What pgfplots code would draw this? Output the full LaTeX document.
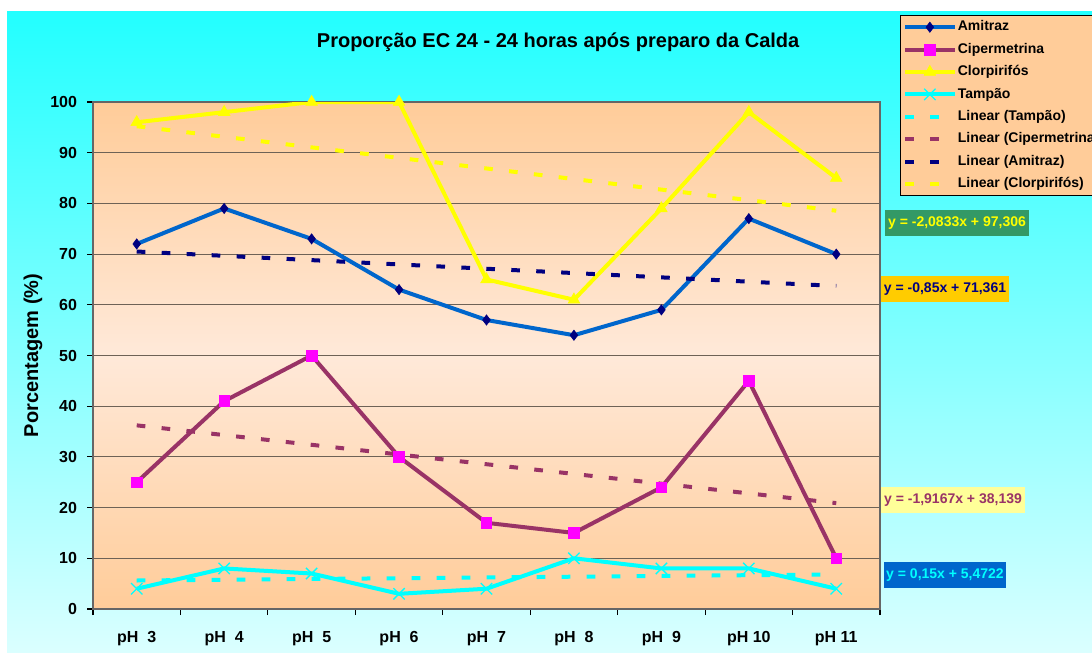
\documentclass[border=0pt]{standalone}
\usepackage{fontspec}
\setmainfont{Liberation Sans}
\usepackage{pgfplots}
\pgfplotsset{compat=1.18}
\definecolor{bgtop}{HTML}{22FFFF}
\definecolor{bgbot}{HTML}{DDFFFF}
\definecolor{peach}{HTML}{FFCC99}
\definecolor{peachlight}{HTML}{FFE9D9}
\definecolor{amiline}{HTML}{0066CC}
\definecolor{navy}{HTML}{000080}
\definecolor{plum}{HTML}{993366}
\definecolor{mag}{HTML}{FF00FF}
\definecolor{yel}{HTML}{FFFF00}
\definecolor{cyn}{HTML}{00FFFF}
\definecolor{gridc}{HTML}{6E6256}
\definecolor{eqgreen}{HTML}{339966}
\definecolor{eqorange}{HTML}{FFCC00}
\definecolor{eqyellow}{HTML}{FFFF99}
\definecolor{eqblue}{HTML}{0066CC}

\pgfplotstableread{
x ami cip clo tam
0 72 25 96 4
1 79 41 98 8
2 73 50 100 7
3 63 30 100 3
4 57 17 65 4
5 54 15 61 10
6 59 24 79 8
7 77 45 98 8
8 70 10 85 4
}\datatab

\pgfplotstableread{
x ami cip clo tam
0 70.511 36.222 95.223 5.622
1 69.661 34.306 93.139 5.772
2 68.811 32.389 91.056 5.922
3 67.961 30.472 88.973 6.072
4 67.111 28.556 86.890 6.222
5 66.261 26.639 84.806 6.372
6 65.411 24.722 82.723 6.522
7 64.561 22.805 80.640 6.672
8 63.711 20.889 78.556 6.822
}\trendtab

\begin{document}
\begin{tikzpicture}
\useasboundingbox (0pt,0pt) rectangle (819pt,-489.75pt);
\clip (0pt,0pt) rectangle (819pt,-489.75pt);
\begin{scope}[x=0.75pt,y=-0.75pt]
\fill[white] (0,0) rectangle (1092,653);
\shade[top color=bgtop,bottom color=bgbot] (7,11) rectangle (1095,660);
\end{scope}
\begin{axis}[
  at={(69.75pt,-456.75pt)}, anchor=south west,
  scale only axis, width=590.25pt, height=380.25pt,
  xmin=-0.5, xmax=8.5, ymin=0, ymax=100,
  xtick={-0.5,0.5,...,8.5},
  x tick label as interval,
  xticklabels={pH\ \ 3,pH\ \ 4,pH\ \ 5,pH\ \ 6,pH\ \ 7,pH\ \ 8,pH\ \ 9,pH 10,pH 11},
  ytick={0,10,...,100},
  xtick pos=bottom, ytick pos=left,
  tick align=outside, major tick length=4.5pt,
  ymajorgrids, xmajorgrids=false,
  grid style={gridc, line width=0.8pt},
  axis background/.style={top color=peach, bottom color=peach, middle color=peachlight},
  axis line style={draw=gray!80!black, line width=0.8pt},
  tick style={black, line width=0.8pt},
  ticklabel style={font=\bfseries\fontsize{12}{14}\selectfont},
  xticklabel style={yshift=-9pt},
  yticklabel style={xshift=-4pt},
  /pgf/number format/assume math mode=true,
  ylabel={Porcentagem (\%)},
  ylabel style={font=\bfseries\fontsize{15}{17}\selectfont, at={(rel axis cs:-0.0762,0.5)}, anchor=center},
  every axis title shift=0pt,
  title={Proporção EC 24 - 24 horas após preparo da Calda},
  title style={font=\bfseries\fontsize{15}{17}\selectfont, at={(rel axis cs:0.591,1.118)}, anchor=center},
  legend style={at={(1.0254,1.1716)}, anchor=north west, draw=black, line width=0.8pt,
    top color=peach, middle color=peachlight, bottom color=peach,
    font=\bfseries\fontsize{10.5}{12}\selectfont,
    inner xsep=2pt, inner ysep=2.5pt, row sep=4.3pt,
    nodes={inner sep=1pt, text height=8pt, text depth=2.5pt}},
  legend cell align=left,
  legend image code/.code={\draw[mark repeat=2,mark phase=2,#1] plot coordinates {(0pt,0pt) (18.5pt,0pt) (37pt,0pt)};},
  trend/.style={line width=3pt, dash pattern=on 6.5pt off 12.25pt, line cap=butt},
]
\addplot[amiline, line width=3pt, mark=diamond*, mark size=3.8pt, mark options={navy, fill=navy, solid, line width=0.5pt}] table[x=x,y=ami] {\datatab};
\addlegendentry{Amitraz}
\addplot[plum, line width=3pt, mark=square*, mark size=4pt, mark options={mag, fill=mag, solid, line width=0.5pt}] table[x=x,y=cip] {\datatab};
\addlegendentry{Cipermetrina}
\addplot[yel, line width=3pt, mark=triangle*, mark size=5pt, mark options={yel, fill=yel, solid, line width=0.5pt}] table[x=x,y=clo] {\datatab};
\addlegendentry{Clorpirifós}
\addplot[cyn, line width=3pt, mark=x, mark size=6pt, mark options={cyn, solid, line width=1pt}] table[x=x,y=tam] {\datatab};
\addlegendentry{Tampão}
\addplot[cyn, trend] table[x=x,y=tam] {\trendtab};
\addlegendentry{Linear (Tampão)}
\addplot[plum, trend] table[x=x,y=cip] {\trendtab};
\addlegendentry{Linear (Cipermetrina)}
\addplot[navy, trend] table[x=x,y=ami] {\trendtab};
\addlegendentry{Linear (Amitraz)}
\addplot[yel, trend] table[x=x,y=clo] {\trendtab};
\addlegendentry{Linear (Clorpirifós)}
\end{axis}
\begin{scope}[x=0.75pt,y=-0.75pt]
\tikzset{eq/.style={font=\bfseries\fontsize{10.5}{12}\selectfont, inner xsep=2pt, minimum height=19.5pt}}
\node[eq, fill=eqgreen, text=yel] at (957,223) {y = -2,0833x + 97,306};
\node[eq, fill=eqorange, text=navy] at (945,289) {y = -0,85x + 71,361};
\node[eq, fill=eqyellow, text=plum] at (953,500) {y = -1,9167x + 38,139};
\node[eq, fill=eqblue, text=cyn] at (945,575) {y = 0,15x + 5,4722};
\end{scope}
\end{tikzpicture}
\end{document}
